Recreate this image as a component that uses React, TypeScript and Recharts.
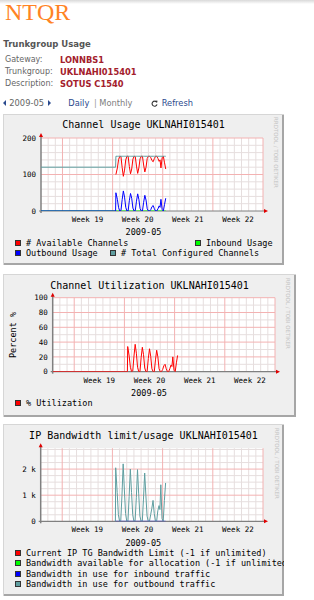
import React from "react";
import { LineChart, Line, XAxis, YAxis, ReferenceLine, ReferenceDot, CartesianGrid } from "recharts";

// hours since 2009-05-01 00:00
const hours = [0, 250, 251, 256, 260, 264, 268, 272, 276, 280, 284, 288, 292, 296, 300, 304, 308, 312, 316, 320, 324, 328, 332, 336, 340, 344, 348, 352, 356, 360, 364, 368, 372, 376, 380, 384, 388, 392, 396, 399, 402, 406, 410, 414, 418];
const totalChannels = [120, 120, 150, 150, 150, 150, 150, 150, 150, 150, 150, 150, 150, 150, 150, 150, 150, 150, 150, 150, 150, 150, 150, 150, 150, 150, 150, 150, 150, 150, 150, 150, 150, 150, 150, 150, 150, 150, 150, 150, 150, 150, 150, 150, 150];
const availableChannels = [null, null, 100, 118, 141, 150, 149, 119, 95, 112, 140, 150, 150, 122, 102, 115, 142, 150, 149, 123, 103, 118, 143, 150, 150, 126, 107, 120, 144, 150, 150, 146, 138, 135, 144, 150, 150, 144, 136, 140, 118, 146, 150, 132, 115];
const inboundUsage = [0, 0, 0, 0, 0, 0, 0, 0, 0, 0, 0, 0, 0, 0, 0, 0, 0, 0, 0, 0, 0, 0, 0, 0, 0, 0, 0, 0, 0, 0, 0, 0, 0, 0, 0, 0, 0, 0, 0, 0, 0, 0, 0, 0, 0];
const outboundUsage = [0, 0, 50, 32, 9, 0, 1, 31, 55, 38, 10, 0, 0, 28, 48, 35, 8, 0, 1, 27, 47, 32, 7, 0, 0, 24, 43, 30, 6, 0, 0, 4, 12, 15, 6, 0, 0, 6, 14, 10, 32, 4, 0, 18, 35];
const utilization = [0, 0, 34, 21, 6, 0, 1, 21, 37, 25, 6, 0, 0, 19, 33, 23, 5, 0, 0, 18, 31, 21, 4, 0, 0, 16, 29, 20, 4, 0, 0, 3, 8, 10, 4, 0, 0, 4, 9, 7, 20, 2, 0, 12, 22];
const bandwidthOutbound = [null, 0, 2050, 1100, 250, 0, 20, 1000, 2200, 1200, 300, 0, 0, 950, 2000, 1100, 250, 0, 20, 900, 1980, 1050, 200, 0, 0, 850, 1850, 1000, 200, 0, 0, 250, 500, 800, 300, 0, 0, 400, 600, 450, 1400, 100, 0, 800, 1470];
const bandwidthInbound = [null, 0, 0, 0, 0, 0, 0, 0, 0, 0, 0, 0, 0, 0, 0, 0, 0, 0, 0, 0, 0, 0, 0, 0, 0, 0, 0, 0, 0, 0, 0, 0, 0, 0, 0, 0, 0, 0, 0, 0, 0, 0, 0, 0, 0];

const weekTicks = [156, 324, 492, 660];
const weekLabels = ["Week 19", "Week 20", "Week 21", "Week 22"];
const weekLines = [72, 240, 408, 576, 744];
const dayLines = Array.from({ length: 30 }, (_, i) => (i + 1) * 24).filter((v) => !weekLines.includes(v));

const rows = hours.map((h, i) => ({
  h,
  total: totalChannels[i],
  avail: availableChannels[i],
  inbound: inboundUsage[i],
  outbound: outboundUsage[i],
  util: utilization[i],
  bwOut: bandwidthOutbound[i],
  bwIn: bandwidthInbound[i],
}));

const MONO = "'DejaVu Sans Mono', monospace";
const SANS = "'DejaVu Sans', Verdana, sans-serif";
const MINOR = "#e6dede";
const MAJOR = "#f3b2b2";
const AXIS = "#808080";
const ARROW = "#e00000";

type TxtProps = { x: number; yc: number; size: number; color?: string; bold?: boolean; font?: string; center?: boolean; children: React.ReactNode };
function Txt({ x, yc, size, color = "#000", bold, font = SANS, center, children }: TxtProps) {
  return (
    <div
      style={{
        position: "absolute",
        left: x,
        top: yc - 0.481 * size,
        fontSize: size,
        lineHeight: size + "px",
        fontFamily: font,
        color,
        fontWeight: bold ? "bold" : "normal",
        whiteSpace: "nowrap",
        transform: center ? "translateX(-50%)" : undefined,
      }}
    >
      {children}
    </div>
  );
}

function LegendItem({ x, yc, color, label }: { x: number; yc: number; color: string; label: string }) {
  return (
    <>
      <div style={{ position: "absolute", left: x, top: yc - 3, width: 4, height: 4, background: color, border: "1px solid #333" }} />
      <Txt x={x + 11} yc={yc} size={8.5} font={MONO}>{label}</Txt>
    </>
  );
}

function Watermark({ cx, top }: { cx: number; top: number }) {
  return (
    <div style={{ position: "absolute", left: cx - 3, top, writingMode: "vertical-rl", fontSize: 5.5, lineHeight: "6px", fontFamily: SANS, color: "#c4c4c4", whiteSpace: "nowrap" }}>
      RRDTOOL / TOBI OETIKER
    </div>
  );
}

type SeriesDef = { key: string; color: string };
type PlotProps = {
  width: number;
  height: number;
  margin: { top: number; right: number; bottom: number; left: number };
  yTop: number;
  yTicks: number[];
  yFmt: (v: number) => string;
  minorY: number[];
  majorY: number[];
  series: SeriesDef[];
};

function Plot({ width, height, margin, yTop, yTicks, yFmt, minorY, majorY, series }: PlotProps) {
  const plotH = height - margin.top - margin.bottom - 20;
  const yPx = yTop / plotH;
  const xPx = 744 / (width - margin.left - margin.right - 30);
  return (
    <div style={{ position: "absolute", left: 0, top: 0 }}>
      <LineChart width={width} height={height} data={rows} margin={margin}>
        <CartesianGrid fill="#ffffff" horizontal={false} vertical={false} />
        <XAxis
          dataKey="h"
          type="number"
          domain={[0, 744]}
          ticks={weekTicks}
          tickFormatter={(v: number) => weekLabels[weekTicks.indexOf(v)]}
          interval={0}
          axisLine={false}
          tickLine={false}
          tickSize={0}
          tickMargin={5.5}
          height={20}
          allowDataOverflow
          tick={{ fontSize: 7.5, fontFamily: MONO, fill: "#000" }}
        />
        <YAxis
          type="number"
          domain={[0, yTop]}
          ticks={yTicks}
          tickFormatter={yFmt}
          interval={0}
          axisLine={false}
          tickLine={false}
          tickSize={0}
          tickMargin={5}
          width={30}
          allowDataOverflow
          tick={{ fontSize: 7.5, fontFamily: MONO, fill: "#000" }}
        />
        {dayLines.map((v) => (
          <ReferenceLine key={"dx" + v} x={v} stroke={MINOR} strokeWidth={1} zIndex={-60} />
        ))}
        {minorY.map((v) => (
          <ReferenceLine key={"my" + v} y={v} stroke={MINOR} strokeWidth={1} zIndex={-60} />
        ))}
        {weekLines.map((v) => (
          <ReferenceLine key={"wx" + v} x={v} stroke={MAJOR} strokeWidth={1} zIndex={-50} />
        ))}
        {majorY.map((v) => (
          <ReferenceLine key={"My" + v} y={v} stroke={MAJOR} strokeWidth={1} zIndex={-50} />
        ))}
        {series.map((s) => (
          <Line
            key={s.key}
            dataKey={s.key}
            stroke={s.color}
            strokeWidth={1}
            dot={false}
            activeDot={false}
            type="linear"
            isAnimationActive={false}
          />
        ))}
        <ReferenceLine
          segment={[{ x: -2 * xPx, y: 0 }, { x: 744 + 2 * xPx, y: 0 }]}
          stroke={AXIS}
          strokeWidth={1.2}
          ifOverflow="visible"
          zIndex={-40}
        />
        <ReferenceLine
          segment={[{ x: 0, y: -2 * yPx }, { x: 0, y: yTop + 3 * yPx }]}
          stroke={AXIS}
          strokeWidth={1.5}
          ifOverflow="visible"
          zIndex={-40}
        />
        <ReferenceDot
          x={744}
          y={0}
          ifOverflow="visible"
          zIndex={700}
          shape={(p: any) => (
            <polygon points={`${p.cx + 1},${p.cy - 2} ${p.cx + 5},${p.cy} ${p.cx + 1},${p.cy + 2}`} fill={ARROW} />
          )}
        />
        <ReferenceDot
          x={0}
          y={yTop}
          ifOverflow="visible"
          zIndex={700}
          shape={(p: any) => (
            <polygon points={`${p.cx - 2},${p.cy - 1} ${p.cx},${p.cy - 5} ${p.cx + 2},${p.cy - 1}`} fill={ARROW} />
          )}
        />
      </LineChart>
    </div>
  );
}

function Box({ left, top, width, height, children }: { left: number; top: number; width: number; height: number; children: React.ReactNode }) {
  return (
    <div
      style={{
        position: "absolute",
        left,
        top,
        width,
        height,
        background: "#efefef",
        overflow: "hidden",
        boxShadow: "inset 1px 1px 0 #d6d6d6, inset -2px -2px 0 #a6a6a6",
      }}
    >
      {children}
    </div>
  );
}

function Triangle({ x, yc, dir }: { x: number; yc: number; dir: "l" | "r" }) {
  const pts = dir === "l" ? "3,0 3,6 0,3" : "0,0 0,6 3,3";
  return (
    <svg style={{ position: "absolute", left: x, top: yc - 3 }} width={3} height={6}>
      <polygon points={pts} fill="#2a4a8e" />
    </svg>
  );
}

export default function App() {
  return (
    <div style={{ position: "absolute", left: 0, top: 0, width: 314, height: 600, background: "#fff", overflow: "hidden" }}>
      <div style={{ position: "absolute", left: 0, top: 0, width: 314, height: 4, background: "linear-gradient(#d9d9d9, #ffffff)" }} />
      <div
        style={{
          position: "absolute",
          left: 5,
          top: -0.3,
          fontSize: 24,
          lineHeight: "24px",
          fontFamily: "'Liberation Serif', 'Times New Roman', serif",
          color: "#ff8324",
        }}
      >
        NTQR
      </div>
      <Txt x={3.3} yc={44.3} size={8.5} bold color="#555">Trunkgroup Usage</Txt>
      <Txt x={5} yc={60.3} size={8} color="#666">Gateway:</Txt>
      <Txt x={60} yc={60.3} size={8.3} bold color="#a3202c">LONNBS1</Txt>
      <Txt x={5} yc={72} size={8} color="#666">Trunkgroup:</Txt>
      <Txt x={60} yc={72} size={8.3} bold color="#a3202c">UKLNAHI015401</Txt>
      <Txt x={5} yc={84.3} size={8} color="#666">Description:</Txt>
      <Txt x={60} yc={84.3} size={8.3} bold color="#a3202c">SOTUS C1540</Txt>

      <Triangle x={3.3} yc={102.7} dir="l" />
      <Txt x={9.3} yc={102.7} size={8.3} color="#666">2009-05</Txt>
      <Triangle x={47.5} yc={102.7} dir="r" />
      <Txt x={68.3} yc={102.7} size={8.3} color="#2a4a8e">Daily</Txt>
      <Txt x={94} yc={102.7} size={8.3} color="#999">|</Txt>
      <Txt x={99.3} yc={102.7} size={8.3} color="#808080">Monthly</Txt>
      <svg style={{ position: "absolute", left: 151, top: 99.5 }} width={7} height={7} viewBox="0 0 7 7">
        <path d="M5.6 2.2 A2.5 2.5 0 1 0 6 4.3" stroke="#333" strokeWidth={1.1} fill="none" />
        <polygon points="4.2,0.6 6.6,0.8 6,3.1" fill="#333" />
      </svg>
      <Txt x={161.7} yc={102.7} size={8.3} color="#2a4a8e">Refresh</Txt>

      {/* Chart 1 */}
      <Box left={3} top={114} width={281} height={151}>
        <Txt x={140.5} yc={11} size={10} font={MONO} center>Channel Usage UKLNAHI015401</Txt>
        <Watermark cx={273} top={3} />
        <Plot
          width={281}
          height={151}
          margin={{ top: 24, right: 21, bottom: 34, left: 8 }}
          yTop={200}
          yTicks={[0, 100, 200]}
          yFmt={(v) => String(v)}
          minorY={[20, 40, 60, 80, 120, 140, 160, 180]}
          majorY={[100, 200]}
          series={[
            { key: "avail", color: "#ff0000" },
            { key: "inbound", color: "#00ff00" },
            { key: "outbound", color: "#0000ff" },
            { key: "total", color: "#5f9ea0" },
          ]}
        />
        <Txt x={140.5} yc={118.3} size={8.5} font={MONO} center>2009-05</Txt>
        <LegendItem x={12} yc={128.7} color="#ff0000" label="# Available Channels" />
        <LegendItem x={192} yc={128.7} color="#00ff00" label="Inbound Usage" />
        <LegendItem x={12} yc={139.3} color="#0000ff" label="Outbound Usage" />
        <LegendItem x={107} yc={139.3} color="#5f9ea0" label="# Total Configured Channels" />
      </Box>

      {/* Chart 2 */}
      <Box left={3} top={274} width={293} height={143}>
        <Txt x={146.5} yc={11.7} size={10} font={MONO} center>Channel Utilization UKLNAHI015401</Txt>
        <Watermark cx={285.3} top={4} />
        <Plot
          width={293}
          height={143}
          margin={{ top: 23.7, right: 21, bottom: 25.3, left: 19.7 }}
          yTop={100}
          yTicks={[0, 20, 40, 60, 80, 100]}
          yFmt={(v) => String(v)}
          minorY={[10, 30, 50, 70, 90]}
          majorY={[20, 40, 60, 80, 100]}
          series={[{ key: "util", color: "#ff0000" }]}
        />
        <div
          style={{
            position: "absolute",
            left: 10.3 - 30,
            top: 61 - 5,
            width: 60,
            height: 10,
            lineHeight: "10px",
            fontSize: 8.5,
            fontFamily: MONO,
            textAlign: "center",
            transform: "rotate(-90deg)",
            whiteSpace: "nowrap",
          }}
        >
          Percent %
        </div>
        <Txt x={146} yc={118.7} size={8.5} font={MONO} center>2009-05</Txt>
        <LegendItem x={12} yc={128.7} color="#ff0000" label="% Utilization" />
      </Box>

      {/* Chart 3 */}
      <Box left={3} top={424} width={281} height={172}>
        <Txt x={140.5} yc={11.7} size={10} font={MONO} center>IP Bandwidth limit/usage UKLNAHI015401</Txt>
        <Watermark cx={273.7} top={4} />
        <Plot
          width={281}
          height={172}
          margin={{ top: 24.2, right: 21, bottom: 54.7, left: 7.7 }}
          yTop={2800}
          yTicks={[0, 1000, 2000]}
          yFmt={(v) => (v === 0 ? "0" : v / 1000 + " k")}
          minorY={[250, 500, 750, 1250, 1500, 1750, 2250, 2500, 2750]}
          majorY={[1000, 2000]}
          series={[
            { key: "bwOut", color: "#5f9ea0" },
            { key: "bwIn", color: "#3030e0" },
          ]}
        />
        <Txt x={140.3} yc={118.7} size={8.5} font={MONO} center>2009-05</Txt>
        <LegendItem x={12} yc={128.7} color="#ff0000" label="Current IP TG Bandwidth Limit (-1 if unlimited)" />
        <LegendItem x={12} yc={139.3} color="#00ff00" label="Bandwidth available for allocation (-1 if unlimited)" />
        <LegendItem x={12} yc={149.7} color="#0000ff" label="Bandwidth in use for inbound traffic" />
        <LegendItem x={12} yc={160} color="#5f9ea0" label="Bandwidth in use for outbound traffic" />
      </Box>
    </div>
  );
}
